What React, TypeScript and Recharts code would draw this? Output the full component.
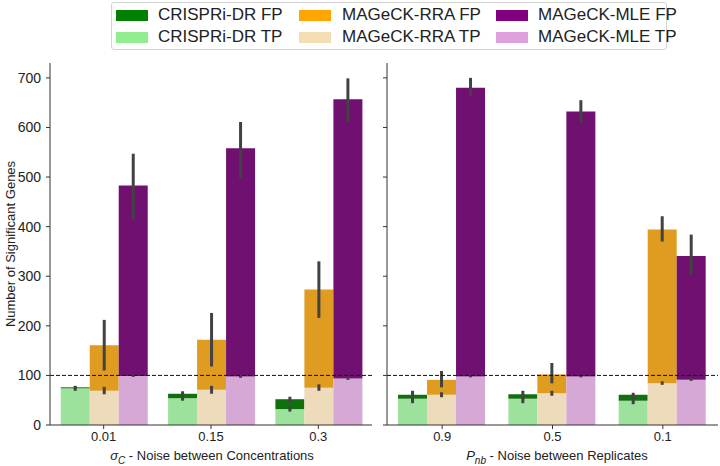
import React from 'react'
import { BarChart, Bar, XAxis, YAxis, ErrorBar, ReferenceLine } from 'recharts'

// x categories
const concLabels = ['0.01', '0.15', '0.3']
const repLabels = ['0.9', '0.5', '0.1']

// sigma_C panel: TP / FP counts per method
const concCrTP = [74, 54, 32]
const concCrFP = [2, 9, 20]
const concRraTP = [69, 71, 75]
const concRraFP = [92, 101, 198]
const concMleTP = [99, 98, 94]
const concMleFP = [384, 460, 563]

// confidence intervals (low, high) at the top of each segment
const concCrTPCi = [[69, 78], [49, 60], [27, 37]]
const concCrFPCi = [[73, 79], [56, 68], [45, 57]]
const concRraTPCi = [[62, 77], [63, 79], [69, 82]]
const concRraFPCi = [[110, 212], [118, 226], [216, 330]]
const concMleTPCi = [[97, 101], [95, 101], [91, 97]]
const concMleFPCi = [[414, 547], [497, 611], [611, 699]]

// P_nb panel
const repCrTP = [53, 53, 49]
const repCrFP = [8, 9, 12]
const repRraTP = [61, 64, 84]
const repRraFP = [30, 38, 310]
const repMleTP = [98, 98, 91]
const repMleFP = [582, 534, 250]

const repCrTPCi = [[44, 60], [44, 60], [42, 56]]
const repCrFPCi = [[52, 69], [52, 69], [54, 65]]
const repRraTPCi = [[56, 66], [59, 69], [81, 88]]
const repRraFPCi = [[76, 109], [84, 125], [370, 421]]
const repMleTPCi = [[96, 100], [96, 100], [89, 95]]
const repMleFPCi = [[663, 700], [609, 655], [303, 384]]

const yTicks = [0, 100, 200, 300, 400, 500, 600, 700]

const METHODS = [
    { key: 'cr', name: 'CRISPRi-DR', tp: '#9ce29c', fp: '#107010', legendTp: '#90EE90', legendFp: '#008000' },
    { key: 'rra', name: 'MAGeCK-RRA', tp: '#eddbbb', fp: '#df9c20', legendTp: '#F5DEB3', legendFp: '#FFA500' },
    { key: 'mle', name: 'MAGeCK-MLE', tp: '#d5a8d5', fp: '#701070', legendTp: '#DDA0DD', legendFp: '#800080' },
]

type Series = { tp: number[], fp: number[], tpCi: number[][], fpCi: number[][] }

function buildRows(labels: string[], series: Record<string, Series>) {
    return labels.map((cat, i) => {
        const row: any = { cat }
        Object.keys(series).forEach(k => {
            const s = series[k]
            const tp = s.tp[i]
            const top = s.tp[i] + s.fp[i]
            row[k + 'TP'] = tp
            row[k + 'FP'] = s.fp[i]
            row[k + 'TPErr'] = [tp - s.tpCi[i][0], s.tpCi[i][1] - tp]
            row[k + 'FPErr'] = [top - s.fpCi[i][0], s.fpCi[i][1] - top]
        })
        return row
    })
}

const concRows = buildRows(concLabels, {
    cr: { tp: concCrTP, fp: concCrFP, tpCi: concCrTPCi, fpCi: concCrFPCi },
    rra: { tp: concRraTP, fp: concRraFP, tpCi: concRraTPCi, fpCi: concRraFPCi },
    mle: { tp: concMleTP, fp: concMleFP, tpCi: concMleTPCi, fpCi: concMleFPCi },
})

const repRows = buildRows(repLabels, {
    cr: { tp: repCrTP, fp: repCrFP, tpCi: repCrTPCi, fpCi: repCrFPCi },
    rra: { tp: repRraTP, fp: repRraFP, tpCi: repRraTPCi, fpCi: repRraFPCi },
    mle: { tp: repMleTP, fp: repMleFP, tpCi: repMleTPCi, fpCi: repMleFPCi },
})

const AXIS = '#333333'
const TEXT = '#222222'
const ERR = '#424242'

function Panel({ rows, width, yWidth, showLabels, right }: { rows: any[], width: number, yWidth: number, showLabels: boolean, right: number }) {
    return (
        <BarChart
            width={width}
            height={466}
            data={rows}
            margin={{ top: 63, right, bottom: 21, left: 0 }}
            barCategoryGap="10%"
            barGap={0}
        >
            <XAxis
                dataKey="cat"
                height={20}
                tickSize={4}
                tickMargin={3}
                stroke={AXIS}
                tick={{ fontSize: 13, fill: TEXT }}
            />
            <XAxis xAxisId="err" dataKey="cat" hide />
            <XAxis xAxisId="top" dataKey="cat" orientation="top" height={0} tick={false} tickLine={false} stroke={AXIS} />
            <YAxis
                domain={[0, 730]}
                ticks={yTicks}
                allowDataOverflow
                width={yWidth}
                tickSize={4}
                tickMargin={5}
                stroke={AXIS}
                tick={{ fontSize: 14, fill: TEXT }}
                tickFormatter={(v) => (showLabels ? String(v) : '')}
            />
            <YAxis yAxisId="right" orientation="right" width={0} tick={false} tickLine={false} stroke={AXIS} domain={[0, 730]} />
            {METHODS.map(m => [
                <Bar key={m.key + 'tp'} dataKey={m.key + 'TP'} stackId={m.key} fill={m.tp} isAnimationActive={false} />,
                <Bar key={m.key + 'fp'} dataKey={m.key + 'FP'} stackId={m.key} fill={m.fp} isAnimationActive={false} />,
            ])}
            {/* transparent copies on a hidden axis so the error bars sit above every bar */}
            {METHODS.map(m => [
                <Bar key={m.key + 'tpe'} xAxisId="err" dataKey={m.key + 'TP'} stackId={m.key + 'e'} fill="transparent" isAnimationActive={false}>
                    <ErrorBar dataKey={m.key + 'TPErr'} width={0} stroke={ERR} strokeWidth={3} direction="y" isAnimationActive={false} />
                </Bar>,
                <Bar key={m.key + 'fpe'} xAxisId="err" dataKey={m.key + 'FP'} stackId={m.key + 'e'} fill="transparent" isAnimationActive={false}>
                    <ErrorBar dataKey={m.key + 'FPErr'} width={0} stroke={ERR} strokeWidth={3} direction="y" isAnimationActive={false} />
                </Bar>,
            ])}
            <ReferenceLine y={100} stroke="#111" strokeDasharray="4 2" strokeWidth={1} />
        </BarChart>
    )
}

function LegendBox() {
    const cols = [
        { patch: 4, text: 46 },
        { patch: 187, text: 230 },
        { patch: 384, text: 426 },
    ]
    return (
        <div style={{ position: 'absolute', left: 111, top: 2, width: 556, height: 48, border: '1px solid #d4d4d4', borderRadius: 3, boxSizing: 'border-box', background: '#fff' }}>
            {METHODS.map((m, i) => [
                { label: m.name + ' FP', color: m.legendFp, y: 13 },
                { label: m.name + ' TP', color: m.legendTp, y: 35 },
            ].map(item => (
                <React.Fragment key={item.label}>
                    <div style={{ position: 'absolute', left: cols[i].patch, top: item.y - 6, width: 32, height: 11, background: item.color }} />
                    <div style={{ position: 'absolute', left: cols[i].text, top: item.y - 11, fontSize: 17, lineHeight: '20px', color: TEXT, whiteSpace: 'nowrap' }}>{item.label}</div>
                </React.Fragment>
            )))}
        </div>
    )
}

export default function App() {
    return (
        <div style={{ position: 'absolute', left: 0, top: 0, width: 720, height: 466, background: '#fff', fontFamily: "'Liberation Sans', Arial, sans-serif", color: TEXT }}>
            <div style={{ position: 'absolute', left: 0, top: 0 }}>
                <Panel rows={concRows} width={380} yWidth={50} showLabels right={8} />
            </div>
            <div style={{ position: 'absolute', left: 375, top: 0 }}>
                <Panel rows={repRows} width={345} yWidth={12} showLabels={false} right={2} />
            </div>
            <LegendBox />
            <div style={{ position: 'absolute', left: 10, top: 244, transform: 'translate(-50%, -50%) rotate(-90deg)', fontSize: 13, whiteSpace: 'nowrap' }}>
                Number of Significant Genes
            </div>
            <div style={{ position: 'absolute', left: 212, top: 457, transform: 'translate(-50%, -50%)', fontSize: 13, whiteSpace: 'nowrap' }}>
                <i>σ<sub style={{ fontSize: 10 }}>C</sub></i> - Noise between Concentrations
            </div>
            <div style={{ position: 'absolute', left: 557, top: 457, transform: 'translate(-50%, -50%)', fontSize: 13, whiteSpace: 'nowrap' }}>
                <i>P<sub style={{ fontSize: 10 }}>nb</sub></i> - Noise between Replicates
            </div>
        </div>
    )
}
